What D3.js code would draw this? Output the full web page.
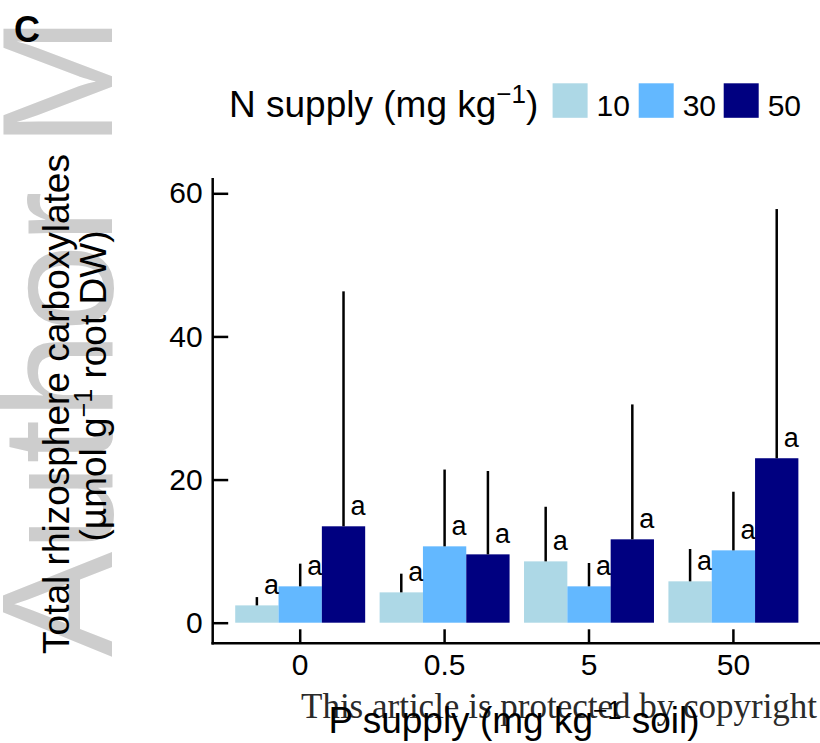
<!DOCTYPE html>
<html>
<head>
<meta charset="utf-8">
<script src="https://cdn.jsdelivr.net/npm/d3@7"></script>
<style>
  html, body { margin: 0; padding: 0; background: #ffffff; }
  svg { display: block; }
  text { font-family: "Liberation Sans", Arial, Helvetica, sans-serif; fill: #000; }
</style>
</head>
<body>
<svg id="chart" width="820" height="743"></svg>
<script>
// P supply levels (x categories) and N supply levels (series)
const categories = ["0", "0.5", "5", "50"];
const nLevels = ["10", "30", "50"];

// Mean total rhizosphere carboxylates (µmol g-1 root DW)
const mean10 = [2.42, 4.24, 8.57, 5.78];
const mean30 = [5.08, 10.67, 5.08, 10.11];
const mean50 = [13.47, 9.55, 11.65, 22.98];

// Upper error (drawn as a single line above each bar)
const err10 = [1.16, 2.61, 7.63, 4.52];
const err30 = [3.17, 10.73, 3.26, 8.19];
const err50 = [32.83, 11.65, 18.85, 34.82];

// Significance letters
const sig10 = ["a", "a", "a", "a"];
const sig30 = ["a", "a", "a", "a"];
const sig50 = ["a", "a", "a", "a"];

const yTicks = [0, 20, 40, 60];
const colors = ["#add8e6", "#63b8ff", "#000080"];

const meansBySeries = [mean10, mean30, mean50];
const errsBySeries = [err10, err30, err50];
const sigsBySeries = [sig10, sig30, sig50];

const rows = [];
categories.forEach((cat, i) => {
  nLevels.forEach((lvl, j) => {
    rows.push({ cat, lvl, mean: meansBySeries[j][i], err: errsBySeries[j][i], sig: sigsBySeries[j][i] });
  });
});

const svg = d3.select("#chart");
svg.append("rect").attr("width", 820).attr("height", 743).attr("fill", "#fff");

// Faint vertical banner along the left edge
svg.append("text")
  .attr("transform", "translate(112,657) rotate(-90)")
  .attr("font-size", 158)
  .style("fill", "#cdcdcd")
  .text("Author M");

// Panel letter
svg.append("text")
  .attr("x", 14).attr("y", 42)
  .attr("font-size", 36).attr("font-weight", "bold")
  .text("C");

// Scales
const x = d3.scaleBand().domain(categories).range([228, 805.6]).paddingInner(0.1).paddingOuter(0.05);
const xs = d3.scaleBand().domain(nLevels).range([0, x.bandwidth()]).padding(0);
const y = d3.scaleLinear().domain([0, 60]).range([622.7, 193.3]);
const color = d3.scaleOrdinal().domain(nLevels).range(colors);

const axisX0 = 212.7, axisYBottom = 643.3, axisYTop = 178;

// Bars
const g = svg.append("g");
g.selectAll("rect.bar").data(rows).join("rect")
  .attr("class", "bar")
  .attr("x", d => x(d.cat) + xs(d.lvl))
  .attr("width", xs.bandwidth())
  .attr("y", d => y(d.mean))
  .attr("height", d => y(0) - y(d.mean))
  .attr("fill", d => color(d.lvl));

// Error lines
g.selectAll("line.err").data(rows).join("line")
  .attr("class", "err")
  .attr("x1", d => x(d.cat) + xs(d.lvl) + xs.bandwidth() / 2)
  .attr("x2", d => x(d.cat) + xs(d.lvl) + xs.bandwidth() / 2)
  .attr("y1", d => y(d.mean))
  .attr("y2", d => y(d.mean + d.err))
  .attr("stroke", "#000").attr("stroke-width", 2.5);

// Letters
g.selectAll("text.sig").data(rows).join("text")
  .attr("class", "sig")
  .attr("x", d => x(d.cat) + xs(d.lvl) + xs.bandwidth() / 2 + 7)
  .attr("y", d => y(d.mean) - 11)
  .attr("font-size", 27)
  .text(d => d.sig);

// Y axis
const yAxis = d3.axisLeft(y).tickValues(yTicks).tickSizeInner(-15.5).tickSizeOuter(0).tickPadding(10);
const gy = svg.append("g").attr("transform", `translate(${axisX0},0)`).call(yAxis);
gy.select(".domain").remove();
gy.selectAll(".tick line").attr("stroke", "#000").attr("stroke-width", 2.5);
gy.selectAll(".tick text").attr("font-size", 30).attr("font-family", null).style("fill", "#000");

// X axis
const xAxis = d3.axisBottom(x).tickSizeInner(-14).tickSizeOuter(0).tickPadding(10.5);
const gx = svg.append("g").attr("transform", `translate(0,${axisYBottom})`).call(xAxis);
gx.select(".domain").remove();
gx.selectAll(".tick line").attr("stroke", "#000").attr("stroke-width", 2.5);
gx.selectAll(".tick text").attr("font-size", 30).attr("font-family", null).style("fill", "#000");

// Axis lines
svg.append("line").attr("x1", axisX0).attr("x2", axisX0).attr("y1", axisYTop).attr("y2", axisYBottom + 1.25)
  .attr("stroke", "#000").attr("stroke-width", 2.5);
svg.append("line").attr("x1", axisX0 - 1.25).attr("x2", 820).attr("y1", axisYBottom).attr("y2", axisYBottom)
  .attr("stroke", "#000").attr("stroke-width", 2.5);

// Y axis title (two lines)
svg.append("text")
  .attr("transform", "translate(69,404) rotate(-90)")
  .attr("text-anchor", "middle").attr("font-size", 37)
  .text("Total rhizosphere carboxylates");
const yt2 = svg.append("text")
  .attr("transform", "translate(106,386) rotate(-90)")
  .attr("text-anchor", "middle").attr("font-size", 37);
yt2.append("tspan").text("(µmol  g");
yt2.append("tspan").attr("font-size", 25).attr("dy", -14).text("−1");
yt2.append("tspan").attr("dy", 14).text(" root DW)");

// Legend
const legend = svg.append("g");
const lt = legend.append("text").attr("x", 229).attr("y", 117).attr("font-size", 37);
lt.append("tspan").text("N supply (mg kg");
lt.append("tspan").attr("font-size", 26).attr("dy", -14).text("−1");
lt.append("tspan").attr("dy", 14).text(")");

const legendX = [552.6, 638.7, 723.7];
legend.selectAll("rect.key").data(nLevels).join("rect")
  .attr("class", "key")
  .attr("x", (d, i) => legendX[i]).attr("y", 83.3)
  .attr("width", 35).attr("height", 34.5)
  .attr("fill", d => color(d));
legend.selectAll("text.key").data(nLevels).join("text")
  .attr("class", "key")
  .attr("x", (d, i) => legendX[i] + 44).attr("y", 115.5)
  .attr("font-size", 30)
  .text(d => d);

// Notice line
svg.append("text")
  .attr("x", 301).attr("y", 718)
  .attr("font-size", 35)
  .style("font-family", "'Liberation Serif', 'Times New Roman', serif")
  .style("fill", "#2a2a2a")
  .text("This article is protected by copyright");

// X axis title
const xt = svg.append("text")
  .attr("x", 514).attr("y", 733)
  .attr("text-anchor", "middle").attr("font-size", 37);
xt.append("tspan").text("P supply (mg kg");
xt.append("tspan").attr("font-size", 25).attr("dy", -14).text("−1");
xt.append("tspan").attr("dy", 14).text("  soil)");
</script>
</body>
</html>
